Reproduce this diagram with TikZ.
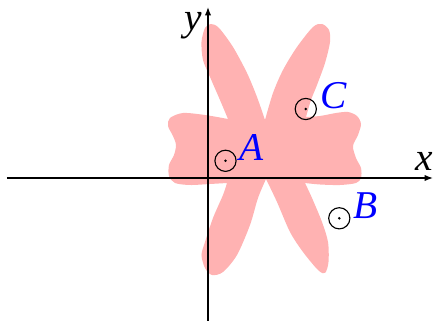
\documentclass[tikz,border=0pt]{standalone}
\usepackage{fontspec}
\setmainfont{Liberation Serif}
\usetikzlibrary{arrows.meta,positioning}

\begin{document}
\begin{tikzpicture}[
        x=0.025cm, y=0.025cm,
        axis/.style={-{Latex[length=6pt,width=4.5pt]}, line width=0.85pt},
        region/.style={fill=red!30},
        spot/.style={circle, draw=black, line width=0.8pt, minimum size=5.3mm, inner sep=0pt},
        spotlabel/.style={font=\fontsize{28}{30}\selectfont\itshape, text=blue, anchor=base west, inner sep=0pt},
        axislabel/.style={font=\fontsize{28}{30}\selectfont\itshape, anchor=base east, inner sep=0pt}
    ]
        \useasboundingbox (-208,-143) rectangle (227,178);

        % shaded region
        \fill[region]
            plot[smooth] coordinates {(20,59) (12,78) (2,101) (-5,118) (-6.5,136) (-3,150) (3,154) (11,150) (25,131) (39,105) (49,81) (57,58)}
            -- plot[smooth] coordinates {(57,58) (65,85) (75,108) (89,131) (105,151) (114,154) (121,148) (122,136) (117,115) (109,93) (103,78) (98,61)}
            -- plot[smooth] coordinates {(98,61) (112,62) (128,65) (140,66) (149,62) (153,54) (150,43) (145,32) (148,20) (153,10) (153,0) (148,-5) (132,-7) (112,-6.5) (97,-5)}
            -- plot[smooth] coordinates {(97,-5) (104,-20) (114,-44) (120,-64) (120.5,-84) (117,-95) (110,-92) (95,-74) (82,-54) (69,-24) (58,-1)}
            -- plot[smooth] coordinates {(58,-1) (50,-20) (42,-47) (29,-77) (15,-94) (4,-97) (-3,-90) (-6.5,-77) (-3,-64) (5,-40) (15,-17) (19,-5)}
            -- plot[smooth] coordinates {(19,-5) (2,-6) (-18,-7) (-33,-5) (-39,2) (-39,13) (-34,23) (-32,33) (-35,42) (-40,52) (-38,60) (-25,65) (-3,63) (20,59)}
            -- cycle;

        % axes
        \coordinate (xstart) at (-201,0);
        \coordinate (xend) at (225,0);
        \coordinate (ystart) at (0,-143);
        \coordinate (yend) at (0,171);
        \draw[axis] (xstart) -- (xend);
        \draw[axis] (ystart) -- (yend);
        \node[axislabel] (xlab) at ([yshift=0.175cm]xend) {x};
        \node[axislabel] (ylab) at ([xshift=-0.15cm, yshift=-0.575cm]yend) {y};

        % points
        \node[spot] (A) at (17.5,17.2) {};
        \node[spot] (B) at (131.3,-40.3) {};
        \node[spot] (C) at (97.8,69) {};
        \foreach \p in {A,B,C}
            \fill (\p.center) circle[radius=1pt];
        \node[spotlabel] (labA) at ([xshift=2pt]A.east) {A};
        \node[spotlabel] (labB) at ([xshift=2pt]B.east) {B};
        \node[spotlabel] (labC) at ([xshift=2pt]C.east) {C};
\end{tikzpicture}
\end{document}
